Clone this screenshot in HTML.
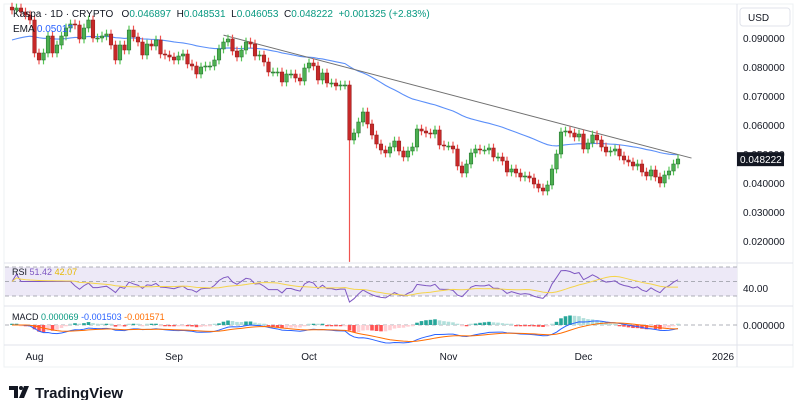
<!DOCTYPE html>
<html><head><meta charset="utf-8"><style>
body{margin:0;background:#fff;width:800px;height:400px;overflow:hidden;font-family:"Liberation Sans",sans-serif}
svg text{font-family:"Liberation Sans",sans-serif;white-space:pre}
</style></head><body>
<svg id="c" width="800" height="400" xmlns="http://www.w3.org/2000/svg"></svg>
<script>
// Close prices (daily, Kaspa), first candle Jul 27
const closesY = [10,8,12,15,20,
53,60,53,36,53,45,36,28,24,25,39,28,20,38,38,36,34,45,60,45,50,30,37,42,55,44,46,40,54,55,57,60,56,54,64,66,74,67,66,66,60,49,42,39,51,57,50,42,44,56,55,62,72,72,72,82,74,74,78,81,68,63,66,80,73,83,83,86,85,85,
140,133,122,112,124,135,144,150,153,147,141,151,157,151,147,129,131,133,134,130,145,146,146,149,166,173,164,153,149,150,150,148,157,157,161,172,169,173,177,176,178,184,188,191,185,169,154,132,131,133,137,134,149,143,135,140,147,152,151,149,156,160,162,166,164,172,176,170,177,183,175,171,164,159];
// converted to prices
const closes = closesY.map(y => +(0.09 - (y - 38) / 2900).toFixed(6));
const priceTicks = [0.09,0.08,0.07,0.06,0.05,0.04,0.03,0.02];
const monthLabels = ["Aug","Sep","Oct","Nov","Dec","2026"];
const monthIndex = [5,36,66,97,127,158];
const crashIndex = 75, crashLow = 0.0128;
const trendStart = [47, 0.091], trendEnd = [151, 0.0486];
const lastPrice = 0.048222;

const S = document.getElementById('c');
const NS = 'http://www.w3.org/2000/svg';
function el(tag, attrs, parent){const e=document.createElementNS(NS,tag);for(const k in attrs)e.setAttribute(k,attrs[k]);(parent||S).appendChild(e);return e;}
const X = i => 12 + i * 4.5;
const Y = p => 38 + (0.09 - p) * 2900;

// frame
let r=el('rect',{x:0,y:0,width:800,height:400,fill:'#fff'});

el('rect',{x:4,y:4,width:789,height:363,fill:'none',stroke:'#eef0f3'});
el('line',{x1:737,y1:4,x2:737,y2:367,stroke:'#e0e3eb'});
[263,306,345].forEach(y=>el('line',{x1:4,y1:y,x2:793,y2:y,stroke:'#e0e3eb'}));

// price axis
priceTicks.forEach(p=>{let t=el('text',{x:743,y:Y(p)+4,'font-size':10,fill:'#131722'});t.textContent=p.toFixed(6);
});
let ub=el('rect',{x:740,y:8,width:50,height:18,rx:3,fill:'#fff',stroke:'#e0e3eb'});

let ut=el('text',{x:748,y:21,'font-size':10,fill:'#131722'});ut.textContent='USD';


// EMA 50
const ema=[];let e0=0.0893;closes.forEach((c,i)=>{e0=i?e0+(c-e0)*2/51:e0;ema.push(e0);});
let ep=el('path',{d:ema.map((v,i)=>(i?'L':'M')+X(i)+' '+Y(v)).join(''),fill:'none',stroke:'#5b8ff9','stroke-width':1.1});

// trendline
let tl=el('line',{x1:X(trendStart[0]),y1:Y(trendStart[1]),x2:X(trendEnd[0]),y2:Y(trendEnd[1]),stroke:'#707070','stroke-width':1});


// candles
closes.forEach((c,i)=>{
  const o=i?closes[i-1]:c+0.001;const up=c>=o;
  const hi=Math.max(o,c)+0.0015, lo=i===crashIndex?crashLow:Math.min(o,c)-0.0015;
  const g=el('g',{});
  
  el('line',{x1:X(i),x2:X(i),y1:Y(hi),y2:Y(lo),stroke:up?'#55c455':'#ef5350','stroke-width':1.2},g);
  const t=Y(Math.max(o,c)),b=Y(Math.min(o,c));
  el('rect',{x:X(i)-1.8,y:t,width:3.6,height:Math.max(1,b-t),fill:up?'#4caf50':'#c62828',stroke:up?'#1e6b2a':'#8e1b1b','stroke-width':0.5},g);
});

// last price label
let lb=el('rect',{x:737,y:Y(lastPrice)-7,width:47,height:14,fill:'#131722'});

let lt=el('text',{x:740,y:Y(lastPrice)+4,'font-size':10,fill:'#fff'});lt.textContent=lastPrice.toFixed(6);

// header
let h=el('text',{x:13,y:17,'font-size':10,fill:'#131722'});

h.innerHTML='Kaspa · 1D · CRYPTO   O<tspan fill="#089981">0.046897</tspan>  H<tspan fill="#089981">0.048531</tspan>  L<tspan fill="#089981">0.046053</tspan>  C<tspan fill="#089981">0.048222</tspan>  <tspan fill="#089981">+0.001325 (+2.83%)</tspan>';
let eh=el('text',{x:13,y:32,'font-size':10,fill:'#131722'});

eh.innerHTML='EMA <tspan fill="#2962ff">0.05017</tspan>';

// RSI
const RY=v=>296-(v-30)*0.725;
el('rect',{x:5,y:RY(70),width:732,height:RY(30)-RY(70),fill:'#ede9f7'});
[70,50,30].forEach(v=>el('line',{x1:5,x2:737,y1:RY(v),y2:RY(v),stroke:'#9598a1','stroke-dasharray':'4 3','stroke-width':0.8}));
const rsi=[];let ag=0,al=0;
closes.forEach((c,i)=>{if(!i){rsi.push(50);return;}const d=c-closes[i-1];const g=Math.max(d,0),l=Math.max(-d,0);
 if(i<=14){ag+=g/14;al+=l/14;}else{ag=(ag*13+g)/14;al=(al*13+l)/14;}rsi.push(al===0?60:100-100/(1+ag/al));});
for(let i=0;i<14;i++)rsi[i]=Math.max(rsi[i],50);
const rsiMa=rsi.map((v,i)=>{const s=rsi.slice(Math.max(0,i-13),i+1);return s.reduce((a,b)=>a+b,0)/s.length;});
let rl=el('path',{d:rsi.map((v,i)=>(i?'L':'M')+X(i)+' '+RY(v)).join(''),fill:'none',stroke:'#7e57c2','stroke-width':1});

let rm=el('path',{d:rsiMa.map((v,i)=>(i?'L':'M')+X(i)+' '+RY(v)).join(''),fill:'none',stroke:'#f5d44a','stroke-width':1});

let rt=el('text',{x:12,y:275,'font-size':9,fill:'#131722'});rt.innerHTML='RSI <tspan fill="#7e57c2">51.42</tspan> <tspan fill="#e6b800">42.07</tspan>';

let r40=el('text',{x:743,y:292,'font-size':10,fill:'#131722'});r40.textContent='40.00';

// MACD
const emaN=(arr,n)=>{let e=arr[0];return arr.map((v,i)=>(e=i?e+(v-e)*2/(n+1):v));};
const e12=emaN(closes,12),e26=emaN(closes,26);
const macd=e12.map((v,i)=>v-e26[i]);const sig=emaN(macd,9);const hist=macd.map((v,i)=>v-sig[i]);
const mmax=Math.max(...macd.map(Math.abs),...sig.map(Math.abs));
const MY=v=>325-v*(18/mmax);
el('line',{x1:5,x2:737,y1:325,y2:325,stroke:'#9598a1','stroke-dasharray':'4 3','stroke-width':0.8});
hist.forEach((v,i)=>{const prev=i?hist[i-1]:0;const grow=Math.abs(v)>=Math.abs(prev);
 const col=v>=0?(grow?'#26a69a':'#b2dfdb'):(grow?'#ff5252':'#ffcdd2');
 const y1=MY(v),hgt=Math.max(0.8,Math.abs(y1-325))*1.6;
 const b=el('rect',{x:X(i)-1.8,y:v>=0?325-hgt:325,width:3.6,height:hgt,fill:col});
 });
let ml=el('path',{d:macd.map((v,i)=>(i?'L':'M')+X(i)+' '+MY(v)).join(''),fill:'none',stroke:'#2962ff','stroke-width':1});

let sl=el('path',{d:sig.map((v,i)=>(i?'L':'M')+X(i)+' '+MY(v)).join(''),fill:'none',stroke:'#ff6d00','stroke-width':1});

let mt=el('text',{x:12,y:320,'font-size':9,fill:'#131722'});mt.innerHTML='MACD <tspan fill="#089981">0.000069</tspan> <tspan fill="#2962ff">-0.001503</tspan> <tspan fill="#ff6d00">-0.001571</tspan>';

let m0=el('text',{x:743,y:329,'font-size':10,fill:'#131722'});m0.textContent='0.000000';

// time axis
monthLabels.forEach((m,k)=>{let t=el('text',{x:X(monthIndex[k]),y:360,'font-size':10,fill:'#131722','text-anchor':'middle'});t.textContent=m;
 });

// logo
let lg=el('g',{});
el('path',{d:'M9 386h9v12h-4v-8h-5z',fill:'#131722'},lg);
el('circle',{cx:21,cy:388,r:2,fill:'#131722'},lg);
el('path',{d:'M24 386h5l-5 12h-5z',fill:'#131722'},lg);
let lgt=el('text',{x:35,y:398,'font-size':15,'font-weight':'bold',fill:'#131722'},lg);lgt.textContent='TradingView';
</script>
</body></html>
